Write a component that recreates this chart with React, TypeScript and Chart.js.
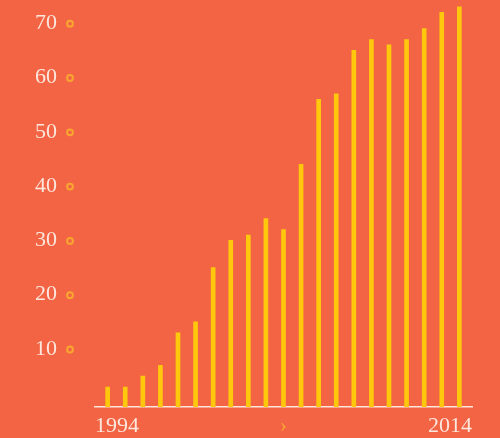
import React, { useEffect, useRef } from "react";
import { Chart, registerables } from "chart.js";

Chart.register(...registerables);

const years = [1994, 1995, 1996, 1997, 1998, 1999, 2000, 2001, 2002, 2003, 2004, 2005, 2006, 2007, 2008, 2009, 2010, 2011, 2012, 2013, 2014];
const values = [3, 3, 5, 7, 13, 15, 25, 30, 31, 34, 32, 44, 56, 57, 65, 67, 66, 67, 69, 72, 73];
const yTicks = [10, 20, 30, 40, 50, 60, 70];
const xTickValues = [1993.28, 2004, 2014.72];
const xTickLabels = ["1994", "›", "2014"];

const BG = "#F26444";
const BAR = "#FFC80C";
const TEXT = "#FDE6DC";
const ACCENT = "#F9A630";
const FONT = "'Liberation Serif', serif";

const circlesPlugin = {
  id: "tickCircles",
  afterDraw(chart: any) {
    const s = chart.scales.y;
    const ctx = chart.ctx;
    ctx.save();
    ctx.strokeStyle = ACCENT;
    ctx.lineWidth = 2;
    s.ticks.forEach((t: any) => {
      const y = s.getPixelForValue(t.value);
      ctx.beginPath();
      ctx.arc(s.right - 25, y + 0.5, 2.9, 0, Math.PI * 2);
      ctx.stroke();
    });
    ctx.restore();
  },
};

export default function App() {
  const ref = useRef<HTMLCanvasElement>(null);
  useEffect(() => {
    if (!ref.current) return;
    const yMin = -0.68;
    const chart = new Chart(ref.current, {
      type: "bar",
      data: {
        datasets: [
          {
            data: years.map((x, i) => ({ x, y: values[i] })),
            backgroundColor: BAR,
            borderWidth: 0,
            barThickness: 4,
            base: yMin,
          } as any,
        ],
      },
      options: {
        animation: false,
        responsive: false,
        layout: { padding: { left: 0, right: 28, top: 1.5, bottom: 0 } },
        plugins: { legend: { display: false }, tooltip: { enabled: false } },
        scales: {
          x: {
            type: "linear",
            offset: false,
            min: xTickValues[0],
            max: xTickValues[2],
            grid: { display: false, drawTicks: false, offset: false },
            border: { display: true, color: TEXT, width: 1.5 },
            afterBuildTicks: (s: any) => {
              s.ticks = xTickValues.map((v) => ({ value: v }));
            },
            afterFit: (s: any) => {
              s.height = 31;
              s.paddingLeft = 0;
              s.paddingRight = 0;
            },
            ticks: {
              autoSkip: false,
              maxRotation: 0,
              align: "inner",
              padding: 6,
              color: (c: any) => (c.index === 1 ? ACCENT : TEXT),
              font: { family: FONT, size: 22 },
              callback: (_v: any, i: number) => xTickLabels[i],
            },
          },
          y: {
            type: "linear",
            min: yMin,
            max: 74,
            grid: { display: false, drawTicks: false },
            border: { display: false },
            afterBuildTicks: (s: any) => {
              s.ticks = yTicks.map((v) => ({ value: v }));
            },
            afterFit: (s: any) => {
              s.width = 95;
              s.paddingTop = 0;
              s.paddingBottom = 0;
            },
            ticks: {
              padding: 38,
              color: TEXT,
              font: { family: FONT, size: 22 },
              callback: (v: any) => String(v),
            },
          },
        },
      } as any,
      plugins: [circlesPlugin],
    });
    return () => chart.destroy();
  }, []);
  return (
    <div style={{ position: "fixed", left: 0, top: 0, width: 500, height: 438, background: BG }}>
      <canvas ref={ref} width={500} height={438} style={{ display: "block" }} />
    </div>
  );
}
